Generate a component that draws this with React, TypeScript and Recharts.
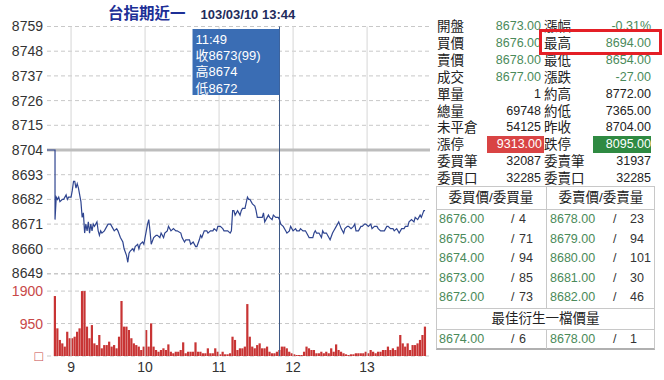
import React from 'react';
import { LineChart, Line, BarChart, Bar, XAxis, YAxis, CartesianGrid, ReferenceLine } from 'recharts';

// session: first trade 8:47, previous close 8704
const firstTrade = 8 * 60 + 47;
const prevClose = 8704;
const timeDomain: [number, number] = [520.5, 831];

const hourTicks = [540, 600, 660, 720, 780];
const hourLabels = ['9', '10', '11', '12', '13'];
const priceTicks = [8649, 8660, 8671, 8682, 8693, 8704, 8715, 8726, 8737, 8748, 8759];
const volTicks = [0, 950, 1900];
const volTickLabels = ['□', '950', '1900'];

// minutes after first trade / last price
const tradeMinutes = [
  0, 1, 2, 3, 4, 6, 7, 9, 10, 11,
  13, 14, 15, 16, 17, 18, 19, 21, 22, 23,
  24, 25, 26, 27, 28, 29, 30, 31, 32, 34,
  35, 36, 37, 38, 40, 42, 43, 45, 46, 48,
  50, 51, 53, 55, 56, 58, 59, 60, 61, 63,
  64, 65, 67, 68, 69, 71, 72, 74, 75, 76,
  77, 78, 80, 82, 83, 85, 86, 88, 89, 91,
  92, 94, 96, 98, 99, 102, 103, 105, 106, 109,
  110, 112, 114, 115, 117, 118, 119, 121, 123, 124,
  126, 128, 129, 131, 132, 134, 136, 137, 138, 140,
  142, 143, 144, 145, 146, 148, 150, 151, 152, 154,
  156, 157, 158, 160, 162, 163, 164, 166, 168, 169,
  170, 171, 173, 174, 176, 177, 179, 181, 182, 183,
  185, 187, 188, 190, 191, 193, 195, 196, 198, 199,
  201, 203, 204, 206, 208, 209, 210, 211, 212, 214,
  216, 217, 218, 220, 222, 223, 225, 226, 228, 230,
  232, 234, 235, 237, 238, 240, 242, 243, 244, 246,
  248, 249, 251, 252, 254, 256, 257, 259, 261, 262,
  264, 265, 267, 269, 270, 272, 274, 275, 277, 278,
  279, 281, 283, 284, 286, 287, 289, 291, 292, 294,
  296, 297, 299, 300,
];
const tradePrices = [
  8673, 8683, 8682, 8683, 8681, 8682, 8682, 8684, 8682, 8683,
  8683, 8686, 8690, 8690, 8687, 8689, 8687, 8681, 8674, 8676,
  8667, 8671, 8668, 8672, 8667, 8671, 8668, 8671, 8670, 8672,
  8668, 8666, 8668, 8667, 8668, 8670, 8671, 8671, 8670, 8668,
  8669, 8668, 8665, 8663, 8660, 8657, 8654, 8658, 8659, 8660,
  8659, 8661, 8662, 8660, 8662, 8663, 8662, 8668, 8671, 8673,
  8668, 8662, 8665, 8666, 8666, 8665, 8667, 8665, 8667, 8668,
  8670, 8668, 8669, 8668, 8668, 8667, 8665, 8663, 8664, 8664,
  8662, 8663, 8661, 8661, 8664, 8666, 8665, 8668, 8668, 8667,
  8668, 8668, 8669, 8668, 8670, 8670, 8669, 8668, 8668, 8668,
  8667, 8668, 8677, 8677, 8675, 8677, 8675, 8677, 8678, 8678,
  8683, 8682, 8682, 8680, 8679, 8677, 8674, 8674, 8674, 8676,
  8672, 8673, 8675, 8674, 8673, 8675, 8674, 8674, 8673, 8671,
  8670, 8668, 8667, 8668, 8670, 8668, 8669, 8668, 8668, 8669,
  8668, 8668, 8667, 8665, 8665, 8665, 8667, 8668, 8667, 8667,
  8665, 8668, 8667, 8667, 8665, 8664, 8667, 8668, 8670, 8672,
  8669, 8667, 8669, 8670, 8670, 8669, 8670, 8671, 8668, 8668,
  8670, 8670, 8671, 8671, 8670, 8671, 8669, 8670, 8670, 8669,
  8668, 8668, 8668, 8670, 8670, 8669, 8669, 8668, 8669, 8668,
  8667, 8669, 8669, 8670, 8670, 8672, 8673, 8672, 8674, 8673,
  8675, 8674, 8677, 8677,
];

// volume per 2-minute slot from first trade
const slotMinutes = 2;
const volumes = [
  1755, 810, 470, 370, 275, 710, 520, 520, 565, 710,
  810, 1900, 1900, 860, 520, 905, 370, 320, 615, 225,
  320, 320, 420, 275, 320, 225, 565, 1610, 860, 860,
  760, 520, 370, 320, 275, 175, 275, 760, 275, 955,
  275, 175, 125, 175, 225, 175, 340, 125, 80, 125,
  125, 175, 400, 80, 125, 125, 125, 400, 125, 125,
  80, 80, 225, 80, 80, 225, 125, 50, 125, 50,
  50, 80, 565, 470, 175, 225, 225, 275, 1520, 565,
  275, 225, 320, 370, 225, 225, 275, 125, 80, 80,
  125, 175, 275, 275, 225, 125, 80, 50, 30, 30,
  30, 125, 275, 225, 175, 175, 80, 80, 125, 80,
  125, 80, 225, 125, 340, 175, 125, 80, 50, 30,
  50, 50, 80, 80, 80, 80, 125, 80, 175, 125,
  80, 125, 125, 175, 175, 275, 175, 225, 175, 275,
  615, 370, 275, 370, 175, 320, 320, 370, 470, 615, 860,
];

// crosshair tooltip
const crossTime = 11 * 60 + 49;
const tipLines = ['11:49', '收8673(99)', '高8674', '低8672'];

// quote panel
const quoteLabelsLeft = ['開盤', '買價', '賣價', '成交', '單量', '總量', '未平倉', '漲停', '委買筆', '委買口'];
const quoteValuesLeft = ['8673.00', '8676.00', '8678.00', '8677.00', '1', '69748', '54125', '9313.00', '32087', '32285'];
const quoteLabelsRight = ['漲幅', '最高', '最低', '漲跌', '約高', '約低', '昨收', '跌停', '委賣筆', '委賣口'];
const quoteValuesRight = ['-0.31%', '8694.00', '8654.00', '-27.00', '8772.00', '7365.00', '8704.00', '8095.00', '31937', '32285'];

const bidPrices = ['8676.00', '8675.00', '8674.00', '8673.00', '8672.00'];
const bidQty = [4, 71, 94, 85, 73];
const askPrices = ['8678.00', '8679.00', '8680.00', '8681.00', '8682.00'];
const askQty = [23, 94, 101, 30, 46];
const bestBid = ['8674.00', 6];
const bestAsk = ['8678.00', 1];

const priceData = [
  { t: timeDomain[0], p: prevClose },
  { t: firstTrade, p: prevClose },
  ...tradeMinutes.map((m, i) => ({ t: firstTrade + m, p: tradePrices[i] })),
];
const volData = volumes.map((v, i) => ({ t: firstTrade + i * slotMinutes, v }));

const NUM_FONT = "'Liberation Sans', Arial, sans-serif";
// Latin font first keeps the line box small; CJK glyphs fall back to Noto
const CJK_FONT = "'Liberation Sans', 'Noto Sans CJK TC', sans-serif";
const GREEN = '#4a8a5a';
const GRID = '#c8c8c8';
const HOUR_GRID = '#d6d6d6';

function TipBox(props: any) {
  const vb = props.viewBox || {};
  const w = 87;
  return (
    <g>
      <rect x={vb.x - w} y={vb.y + 2.5} width={w} height={66} fill="#3a6db4" />
      {tipLines.map((s, i) => (
        <text key={i} x={vb.x - w + 3} y={vb.y + 17 + i * 16.4} fill="#fff" fontSize={13} fontFamily={CJK_FONT}>
          {s}
        </text>
      ))}
    </g>
  );
}

function QuoteRow({ i }: { i: number }) {
  const top = 18 + i * 16.9;
  const limitUp = quoteLabelsLeft[i] === '漲停';
  const colored = i < 4;
  const valStyle: React.CSSProperties = {
    position: 'absolute', top, height: 17, lineHeight: '17px', textAlign: 'right',
    fontFamily: NUM_FONT, fontSize: 12.5, color: colored ? GREEN : '#222',
  };
  const labStyle: React.CSSProperties = {
    position: 'absolute', top, height: 17, lineHeight: '17px', fontFamily: CJK_FONT, fontSize: 13.5, color: '#222',
  };
  return (
    <>
      <div style={{ ...labStyle, left: 437 }}>{quoteLabelsLeft[i]}</div>
      <div
        style={{
          ...valStyle,
          left: limitUp ? 487 : 480,
          width: limitUp ? 55 : 61,
          paddingRight: limitUp ? 2 : 0,
          background: limitUp ? '#d94444' : 'transparent',
          color: limitUp ? '#fff' : valStyle.color,
        }}
      >
        {quoteValuesLeft[i]}
      </div>
      <div style={{ ...labStyle, left: 544 }}>{quoteLabelsRight[i]}</div>
      <div
        style={{
          ...valStyle,
          left: limitUp ? 593 : 590,
          width: limitUp ? 58 : 61,
          background: limitUp ? '#2f8a42' : 'transparent',
          color: limitUp ? '#fff' : valStyle.color,
        }}
      >
        {quoteValuesRight[i]}
      </div>
    </>
  );
}

function DepthCell({ left, top, price, qty, slashAt }: { left: number; top: number; price: string; qty: number | string; slashAt: number }) {
  const base: React.CSSProperties = { position: 'absolute', top, height: 19, lineHeight: '19px', fontFamily: NUM_FONT, fontSize: 12.5 };
  return (
    <>
      <div style={{ ...base, left: left + 3, color: GREEN }}>{price}</div>
      <div style={{ ...base, left: left + slashAt, color: '#333' }}>/</div>
      <div style={{ ...base, left: left + 83, color: '#333' }}>{qty}</div>
    </>
  );
}

function QuotePanel() {
  const headStyle: React.CSSProperties = {
    position: 'absolute', top: 187, height: 22, lineHeight: '22px', textAlign: 'center', fontFamily: CJK_FONT, fontSize: 13.5, color: '#222',
  };
  return (
    <>
      {quoteLabelsLeft.map((_, i) => (
        <QuoteRow key={i} i={i} />
      ))}
      <div style={{ position: 'absolute', left: 539, top: 29, width: 123, height: 26, border: '3.5px solid #e41f26', boxSizing: 'border-box' }} />
      <div
        style={{
          position: 'absolute', left: 436, top: 186, width: 219, height: 164, boxSizing: 'border-box',
          border: `1px solid ${GRID}`, borderBottom: '2px solid #b0b0b0',
        }}
      />
      <div style={{ position: 'absolute', left: 546, top: 186, width: 1, height: 123, background: GRID }} />
      <div style={{ position: 'absolute', left: 546, top: 329, width: 1, height: 20, background: GRID }} />
      <div style={{ position: 'absolute', left: 436, top: 209, width: 219, height: 1, background: GRID }} />
      <div style={{ position: 'absolute', left: 436, top: 308, width: 219, height: 1, background: GRID }} />
      <div style={{ position: 'absolute', left: 436, top: 329, width: 219, height: 1, background: GRID }} />
      <div style={{ ...headStyle, left: 436, width: 110 }}>委買價/委買量</div>
      <div style={{ ...headStyle, left: 547, width: 108 }}>委賣價/委賣量</div>
      {bidPrices.map((p, i) => (
        <DepthCell key={'b' + i} left={436} top={210 + i * 19.6} price={p} qty={bidQty[i]} slashAt={75} />
      ))}
      {askPrices.map((p, i) => (
        <DepthCell key={'a' + i} left={547} top={210 + i * 19.6} price={p} qty={askQty[i]} slashAt={66} />
      ))}
      <div style={{ ...headStyle, top: 309, height: 20, lineHeight: '20px', left: 436, width: 219 }}>最佳衍生一檔價量</div>
      <DepthCell left={436} top={330} price={bestBid[0] as string} qty={bestBid[1]} slashAt={75} />
      <DepthCell left={547} top={330} price={bestAsk[0] as string} qty={bestAsk[1]} slashAt={66} />
    </>
  );
}

export default function App() {
  const axisTick = { fill: '#333', fontSize: 14, fontFamily: NUM_FONT };
  return (
    <div style={{ position: 'absolute', left: 0, top: 0, width: 664, height: 380, background: '#fff', overflow: 'hidden' }}>
      <div style={{ position: 'absolute', left: 108, top: 1, whiteSpace: 'nowrap' }}>
        <span style={{ fontFamily: CJK_FONT, fontWeight: 700, fontSize: 15.5, color: '#1d2f96' }}>台指期近一</span>
        <span style={{ fontFamily: NUM_FONT, fontWeight: 700, fontSize: 13, color: '#1f2c5c', marginLeft: 15 }}>103/03/10 13:44</span>
      </div>

      <div style={{ position: 'absolute', left: 0, top: 0 }}>
        <LineChart width={440} height={280} data={priceData} margin={{ top: 26.5, right: 10, bottom: 6.5, left: 0 }}>
          <CartesianGrid stroke={GRID} strokeDasharray="4 3" vertical={false} />
          <XAxis type="number" dataKey="t" domain={timeDomain} ticks={hourTicks} allowDataOverflow hide />
          <YAxis
            domain={[priceTicks[0], priceTicks[priceTicks.length - 1]]}
            ticks={priceTicks}
            interval={0}
            width={47}
            axisLine={false}
            tickLine={false}
            tickSize={0}
            tickMargin={4}
            tick={axisTick}
          />
          <ReferenceLine x={hourTicks[0]} stroke={HOUR_GRID} />
          <ReferenceLine x={hourTicks[1]} stroke={HOUR_GRID} />
          <ReferenceLine x={hourTicks[2]} stroke={HOUR_GRID} />
          <ReferenceLine x={hourTicks[3]} stroke={HOUR_GRID} />
          <ReferenceLine x={hourTicks[4]} stroke={HOUR_GRID} />
          <ReferenceLine y={prevClose} stroke="#bdbdbd" strokeWidth={3} />
          <ReferenceLine x={crossTime} stroke="#3f5a86" strokeWidth={1} label={(p: any) => <TipBox {...p} />} />
          <Line type="linear" dataKey="p" stroke="#2f4590" strokeWidth={1.2} dot={false} isAnimationActive={false} />
        </LineChart>
      </div>

      <div style={{ position: 'absolute', left: 0, top: 260 }}>
        <BarChart width={440} height={120} data={volData} margin={{ top: 14, right: 10, bottom: 0, left: 0 }}>
          <CartesianGrid stroke={GRID} strokeDasharray="4 3" vertical={false} />
          <XAxis
            type="number"
            dataKey="t"
            domain={timeDomain}
            ticks={hourTicks}
            allowDataOverflow
            height={24}
            axisLine={false}
            tickLine={false}
            tickSize={0}
            tickMargin={6}
            tick={axisTick}
            tickFormatter={(v: number) => hourLabels[hourTicks.indexOf(v)]}
          />
          <YAxis
            domain={[0, 2400]}
            ticks={volTicks}
            interval={0}
            width={47}
            axisLine={false}
            tickLine={false}
            tickSize={0}
            tickMargin={4}
            tick={{ ...axisTick, fill: '#c84848' }}
            tickFormatter={(v: number) => volTickLabels[volTicks.indexOf(v)]}
          />
          <ReferenceLine x={hourTicks[0]} stroke={HOUR_GRID} />
          <ReferenceLine x={hourTicks[1]} stroke={HOUR_GRID} />
          <ReferenceLine x={hourTicks[2]} stroke={HOUR_GRID} />
          <ReferenceLine x={hourTicks[3]} stroke={HOUR_GRID} />
          <ReferenceLine x={hourTicks[4]} stroke={HOUR_GRID} />
          <Bar dataKey="v" fill="#c83434" barSize={3} isAnimationActive={false} />
          <ReferenceLine x={crossTime} stroke="#3f5a86" strokeWidth={1} />
        </BarChart>
      </div>

      <QuotePanel />
    </div>
  );
}
